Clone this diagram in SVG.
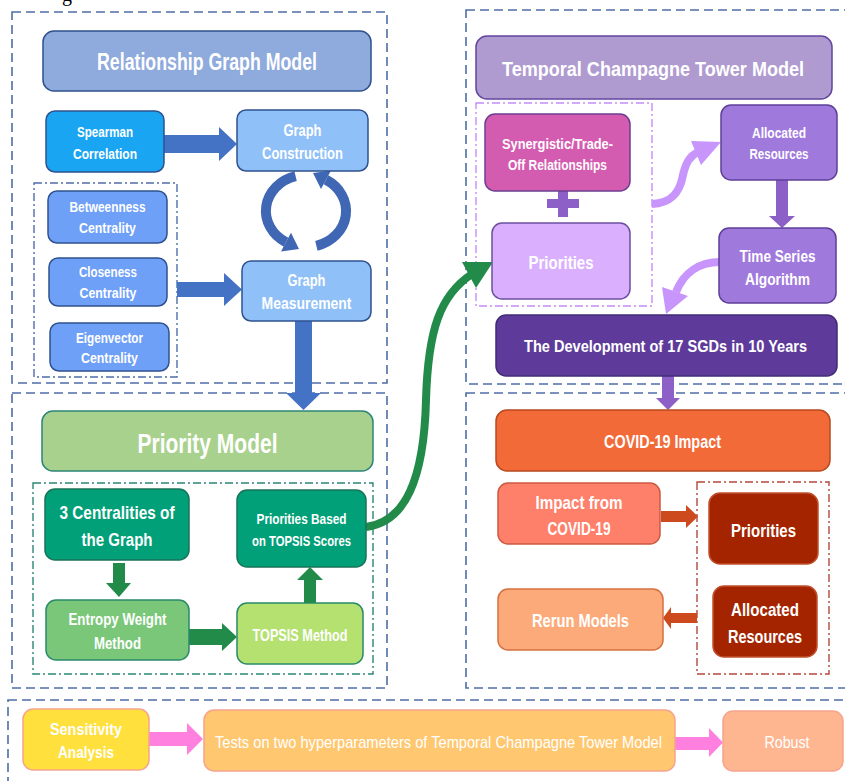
<svg xmlns="http://www.w3.org/2000/svg" width="845" height="781" viewBox="0 0 845 781">
<style>
.t{font-family:"Liberation Sans",Arial,sans-serif;font-weight:bold;fill:#fff;text-anchor:middle}
.tn{font-family:"Liberation Sans",Arial,sans-serif;font-weight:normal;fill:#fff;text-anchor:middle}
.outer{fill:none;stroke:#4e6ea6;stroke-width:1.6;stroke-dasharray:9 5}
.dd{fill:none;stroke-width:1.4;stroke-dasharray:8 3 2 3}
.n{stroke-width:1.5}
</style>
<rect width="845" height="781" fill="#fff"/>
<text x="62" y="1" font-family="Liberation Serif,serif" font-size="20" fill="#000">g</text>

<g id="frames">
<rect class="outer" x="12" y="12" width="375" height="371"/>
<rect class="outer" x="12" y="393" width="375" height="295"/>
<rect class="outer" x="466" y="10" width="400" height="374"/>
<rect class="outer" x="466" y="393" width="400" height="295"/>
<rect class="outer" x="8" y="700" width="860" height="100"/>
<rect class="dd" stroke="#4e6ea6" x="34" y="183" width="143" height="194"/>
<rect class="dd" stroke="#2c8577" x="33" y="483" width="340" height="191"/>
<rect class="dd" stroke="#c58cf7" x="476" y="103" width="176" height="203"/>
<rect class="dd" stroke="#b5483a" x="697" y="482" width="132" height="192"/>
</g>

<g id="connectors">
<polygon fill="#4472c4" points="164,135 219,135 219,127 237,144 219,161 219,153 164,153"/>
<polygon fill="#4472c4" points="177,282 224,282 224,273 242,289.5 224,306 224,297 177,297"/>
<polygon fill="#4472c4" points="295,321 312,321 312,393 321,393 303.5,410 286,393 295,393"/>
<path d="M295.6,176.2 A40,36 0 0 0 286,242.2" fill="none" stroke="#3f67b3" stroke-width="10"/>
<polygon fill="#3f67b3" points="281,251.5 291,232.8 299,249"/>
<path d="M316.4,245.8 A40,36 0 0 0 326,179.8" fill="none" stroke="#3f67b3" stroke-width="10"/>
<polygon fill="#3f67b3" points="331,170.5 321,189 313,173"/>
<polygon fill="#228b4a" points="113,563 125,563 125,583 131,583 119,597 106,583 113,583"/>
<polygon fill="#228b4a" points="189,629 222,629 222,623 237,637 222,651 222,645 189,645"/>
<polygon fill="#228b4a" points="304,603 316,603 316,580 323,580 310,567 297,580 304,580"/>
<path d="M366,527 C405,522 424,480 426,400 C428,330 440,295 472,274" fill="none" stroke="#228b4a" stroke-width="8"/>
<polygon fill="#228b4a" points="462,262 493,262 476,288"/>
<rect x="558" y="191" width="10" height="26" fill="#8d60c8"/>
<rect x="547" y="199" width="32" height="9" fill="#8d60c8"/>
<path d="M652,204 C672,203 680,192 683,175 C686,162 690,156 698,152" fill="none" stroke="#c795fb" stroke-width="8"/>
<polygon fill="#c795fb" points="691,141 721,142 701,165"/>
<polygon fill="#8d60c8" points="776,180 788,180 788,216 795,216 782,228 769,216 776,216"/>
<path d="M720,262 C700,262 684,272 676,292" fill="none" stroke="#c795fb" stroke-width="8"/>
<polygon fill="#c795fb" points="662,287 688,296 666,314"/>
<polygon fill="#8d60c8" points="662,376 674,376 674,398 680,398 668,410 656,398 662,398"/>
<polygon fill="#cc4a1e" points="661,511 686,511 686,505 698,516.5 686,528 686,522 661,522"/>
<polygon fill="#cc4a1e" points="697,613 671,613 671,607 663,618 671,629 671,623 697,623"/>
<polygon fill="#ff80de" points="149,732 187,732 187,723 203,739 187,755 187,746 149,746"/>
<polygon fill="#ff80de" points="675,737 709,737 709,728 723,742.5 709,757 709,750 675,750"/>
</g>

<g id="relationship-graph-model">
<rect class="n" x="43" y="31" width="328" height="60" rx="11" fill="#8faadc" stroke="#2f528f"/>
<text class="t" x="207" y="70" font-size="24" textLength="220" lengthAdjust="spacingAndGlyphs">Relationship Graph Model</text>
</g>
<g id="spearman">
<rect class="n" x="46" y="111" width="118" height="61" rx="9" fill="#1aa5f3" stroke="#2f528f"/>
<text class="t" x="105" y="137" font-size="15" textLength="56" lengthAdjust="spacingAndGlyphs">Spearman</text>
<text class="t" x="105" y="159" font-size="15" textLength="64" lengthAdjust="spacingAndGlyphs">Correlation</text>
</g>
<g id="graph-construction">
<rect class="n" x="237" y="110" width="131" height="61" rx="9" fill="#8fc0f8" stroke="#2f528f"/>
<text class="t" x="302.5" y="136" font-size="17" textLength="38" lengthAdjust="spacingAndGlyphs">Graph</text>
<text class="t" x="302.5" y="159" font-size="17" textLength="81" lengthAdjust="spacingAndGlyphs">Construction</text>
</g>
<g id="betweenness">
<rect class="n" x="48" y="191" width="119" height="52" rx="9" fill="#6fa0f7" stroke="#2f528f"/>
<text class="t" x="107.5" y="212" font-size="15" textLength="76" lengthAdjust="spacingAndGlyphs">Betweenness</text>
<text class="t" x="107.5" y="233" font-size="15" textLength="57" lengthAdjust="spacingAndGlyphs">Centrality</text>
</g>
<g id="closeness">
<rect class="n" x="49" y="258" width="118" height="48" rx="9" fill="#6fa0f7" stroke="#2f528f"/>
<text class="t" x="108" y="277" font-size="15" textLength="58" lengthAdjust="spacingAndGlyphs">Closeness</text>
<text class="t" x="108" y="298" font-size="15" textLength="57" lengthAdjust="spacingAndGlyphs">Centrality</text>
</g>
<g id="eigenvector">
<rect class="n" x="50" y="323" width="119" height="48" rx="9" fill="#6fa0f7" stroke="#2f528f"/>
<text class="t" x="109.5" y="343" font-size="15" textLength="67" lengthAdjust="spacingAndGlyphs">Eigenvector</text>
<text class="t" x="109.5" y="363" font-size="15" textLength="57" lengthAdjust="spacingAndGlyphs">Centrality</text>
</g>
<g id="graph-measurement">
<rect class="n" x="242" y="261" width="129" height="60" rx="9" fill="#8fc0f8" stroke="#2f528f"/>
<text class="t" x="306.5" y="286" font-size="17" textLength="38" lengthAdjust="spacingAndGlyphs">Graph</text>
<text class="t" x="306.5" y="309" font-size="17" textLength="90" lengthAdjust="spacingAndGlyphs">Measurement</text>
</g>

<g id="priority-model">
<rect class="n" x="42" y="411" width="331" height="60" rx="11" fill="#a9d18e" stroke="#2c8577"/>
<text class="t" x="207.5" y="453" font-size="27" textLength="140" lengthAdjust="spacingAndGlyphs">Priority Model</text>
</g>
<g id="three-centralities">
<rect class="n" x="45" y="489" width="144" height="71" rx="10" fill="#02a078" stroke="#19735a"/>
<text class="t" x="117" y="519" font-size="19" textLength="115" lengthAdjust="spacingAndGlyphs">3 Centralities of</text>
<text class="t" x="117" y="546" font-size="19" textLength="71" lengthAdjust="spacingAndGlyphs">the Graph</text>
</g>
<g id="priorities-topsis">
<rect class="n" x="237" y="490" width="129" height="77" rx="10" fill="#02a078" stroke="#19735a"/>
<text class="t" x="301.5" y="524" font-size="15" textLength="90" lengthAdjust="spacingAndGlyphs">Priorities Based</text>
<text class="t" x="301.5" y="546" font-size="15" textLength="99" lengthAdjust="spacingAndGlyphs">on TOPSIS Scores</text>
</g>
<g id="entropy">
<rect class="n" x="46" y="600" width="143" height="60" rx="10" fill="#7ac77a" stroke="#2a8a6a"/>
<text class="t" x="117.5" y="625" font-size="17" textLength="98" lengthAdjust="spacingAndGlyphs">Entropy Weight</text>
<text class="t" x="117.5" y="649" font-size="17" textLength="47" lengthAdjust="spacingAndGlyphs">Method</text>
</g>
<g id="topsis">
<rect class="n" x="237" y="603" width="126" height="61" rx="10" fill="#b4e170" stroke="#2a8a6a"/>
<text class="t" x="300" y="641" font-size="17" textLength="95" lengthAdjust="spacingAndGlyphs">TOPSIS Method</text>
</g>

<g id="tct-model">
<rect class="n" x="476" y="36" width="356" height="63" rx="11" fill="#b09bd0" stroke="#6246a0"/>
<text class="t" x="653" y="76" font-size="20.5" textLength="302" lengthAdjust="spacingAndGlyphs">Temporal Champagne Tower Model</text>
</g>
<g id="synergistic">
<rect class="n" x="485" y="114" width="145" height="77" rx="10" fill="#d45cb0" stroke="#6c3e90"/>
<text class="t" x="557.5" y="149" font-size="15" textLength="111" lengthAdjust="spacingAndGlyphs">Synergistic/Trade-</text>
<text class="t" x="557.5" y="170" font-size="15" textLength="99" lengthAdjust="spacingAndGlyphs">Off Relationships</text>
</g>
<g id="priorities-tct">
<rect class="n" x="492" y="223" width="138" height="76" rx="10" fill="#dab0fe" stroke="#6c4fa0"/>
<text class="t" x="561" y="269" font-size="19" textLength="65" lengthAdjust="spacingAndGlyphs">Priorities</text>
</g>
<g id="allocated-tct">
<rect class="n" x="721" y="105" width="116" height="75" rx="10" fill="#a079dd" stroke="#5e3f98"/>
<text class="t" x="779" y="138" font-size="15" textLength="54" lengthAdjust="spacingAndGlyphs">Allocated</text>
<text class="t" x="779" y="159" font-size="15" textLength="59" lengthAdjust="spacingAndGlyphs">Resources</text>
</g>
<g id="time-series">
<rect class="n" x="719" y="228" width="117" height="75" rx="10" fill="#a079dd" stroke="#5e3f98"/>
<text class="t" x="777.5" y="262" font-size="17" textLength="76" lengthAdjust="spacingAndGlyphs">Time Series</text>
<text class="t" x="777.5" y="285" font-size="17" textLength="65" lengthAdjust="spacingAndGlyphs">Algorithm</text>
</g>
<g id="development">
<rect class="n" x="496" y="315" width="341" height="61" rx="10" fill="#5e3b9a" stroke="#402b75"/>
<text class="t" x="665.5" y="352" font-size="16.5" textLength="283" lengthAdjust="spacingAndGlyphs">The Development of 17 SGDs in 10 Years</text>
</g>

<g id="covid-impact">
<rect class="n" x="496" y="410" width="334" height="61" rx="11" fill="#f26a38" stroke="#b84a1f"/>
<text class="t" x="662.5" y="448" font-size="19" textLength="117" lengthAdjust="spacingAndGlyphs">COVID-19 Impact</text>
</g>
<g id="impact-from">
<rect class="n" x="498" y="483" width="162" height="61" rx="10" fill="#ff806a" stroke="#cc5a40"/>
<text class="t" x="579" y="509" font-size="19" textLength="87" lengthAdjust="spacingAndGlyphs">Impact from</text>
<text class="t" x="579" y="535" font-size="19" textLength="63" lengthAdjust="spacingAndGlyphs">COVID-19</text>
</g>
<g id="priorities-covid">
<rect class="n" x="709" y="493" width="109" height="71" rx="11" fill="#a52400" stroke="#c0502c"/>
<text class="t" x="763.5" y="537" font-size="19" textLength="65" lengthAdjust="spacingAndGlyphs">Priorities</text>
</g>
<g id="allocated-covid">
<rect class="n" x="713" y="586" width="104" height="71" rx="11" fill="#a52400" stroke="#c0502c"/>
<text class="t" x="765" y="616" font-size="19" textLength="68" lengthAdjust="spacingAndGlyphs">Allocated</text>
<text class="t" x="765" y="643" font-size="19" textLength="74" lengthAdjust="spacingAndGlyphs">Resources</text>
</g>
<g id="rerun">
<rect class="n" x="498" y="589" width="165" height="61" rx="10" fill="#fcaa79" stroke="#d57040"/>
<text class="t" x="580.5" y="627" font-size="19" textLength="97" lengthAdjust="spacingAndGlyphs">Rerun Models</text>
</g>

<g id="sensitivity">
<rect class="n" x="23" y="709" width="126" height="61" rx="10" fill="#ffe03d" stroke="#f6a48d"/>
<text class="t" x="86" y="735" font-size="17" textLength="72" lengthAdjust="spacingAndGlyphs">Sensitivity</text>
<text class="t" x="86" y="758" font-size="17" textLength="56" lengthAdjust="spacingAndGlyphs">Analysis</text>
</g>
<g id="tests">
<rect class="n" x="204" y="710" width="471" height="61" rx="10" fill="#ffc76f" stroke="#f6a48d"/>
<text class="tn" x="438.5" y="748" font-size="17" textLength="447" lengthAdjust="spacingAndGlyphs">Tests on two hyperparameters of Temporal Champagne Tower Model</text>
</g>
<g id="robust">
<rect class="n" x="723" y="711" width="120" height="60" rx="10" fill="#feb690" stroke="#f6a48d"/>
<text class="tn" x="787" y="748" font-size="17" textLength="45" lengthAdjust="spacingAndGlyphs">Robust</text>
</g>
</svg>
